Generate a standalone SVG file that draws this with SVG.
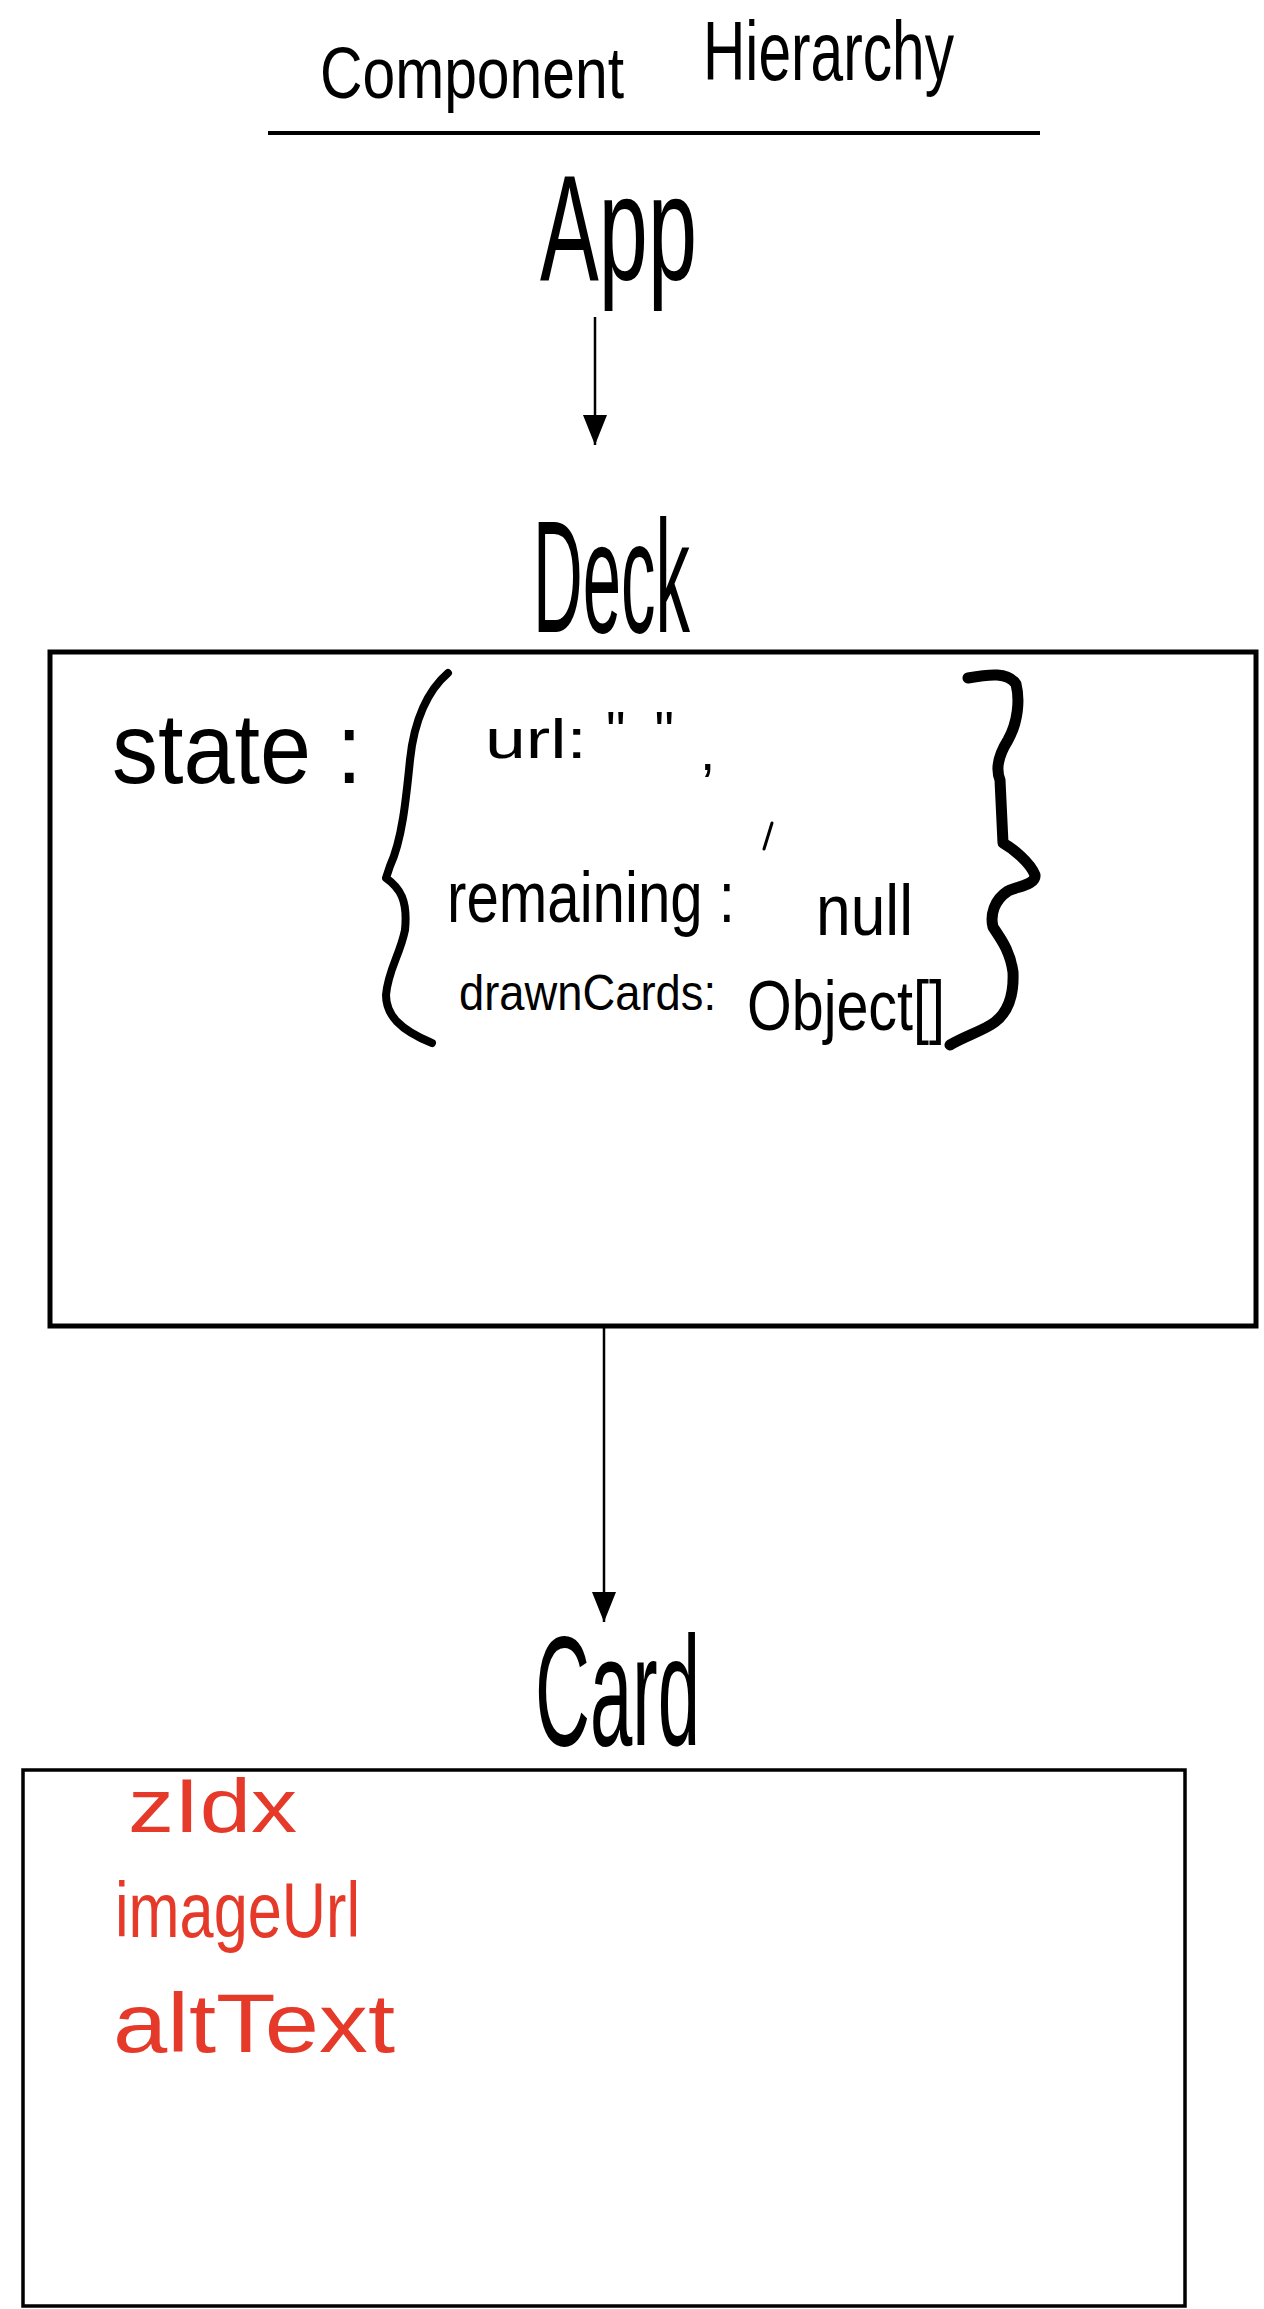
<svg xmlns="http://www.w3.org/2000/svg" width="1264" height="2309" viewBox="0 0 1264 2309">
<style>
text { font-family: "Liberation Sans", Arial, sans-serif; fill: #000; }
.red { fill: #e5392a; }
.box { fill: none; stroke: #000; }
.conn { stroke: #000; stroke-width: 2.5; fill: none; }
.ink { fill: none; stroke: #000; stroke-linecap: round; stroke-linejoin: round; }
</style>
<defs>
<marker id="arrow" viewBox="0 0 30 24" refX="30" refY="12" markerWidth="30" markerHeight="24" markerUnits="userSpaceOnUse" orient="auto">
<path d="M0,0 L30,12 L0,24 Z" fill="#000"/>
</marker>
</defs>
<rect width="1264" height="2309" fill="#fff"/>
<g id="title">
<text><tspan x="320" y="98" font-size="73" textLength="304" lengthAdjust="spacingAndGlyphs">Component</tspan> <tspan x="703" y="80" font-size="84" textLength="251" lengthAdjust="spacingAndGlyphs">Hierarchy</tspan></text>
<line x1="268" y1="133" x2="1040" y2="133" stroke="#000" stroke-width="4"/>
</g>
<g id="connectors">
<line class="conn" x1="595" y1="317" x2="595" y2="445" marker-end="url(#arrow)"/>
<line class="conn" x1="604" y1="1328" x2="604" y2="1622" marker-end="url(#arrow)"/>
</g>
<g id="app">
<text x="540" y="280" font-size="150" textLength="157" lengthAdjust="spacingAndGlyphs">App</text>
</g>
<g id="deck">
<text x="533" y="632" font-size="160" textLength="157" lengthAdjust="spacingAndGlyphs">Deck</text>
<rect class="box" x="50" y="652" width="1206" height="674" stroke-width="5"/>
<text x="112" y="783" font-size="100" textLength="250" lengthAdjust="spacingAndGlyphs">state :</text>
<path class="ink" stroke-width="8" d="M448,673 C428,690 414,720 410,760 C406,800 402,840 390,866 L386,878 C400,888 408,900 405,930 C400,955 388,970 386,995 C386,1015 400,1030 432,1043"/>
<text font-size="55"><tspan x="485" y="758" textLength="102" lengthAdjust="spacingAndGlyphs">url:</tspan><tspan x="606" y="750" textLength="68" lengthAdjust="spacing">""</tspan><tspan x="700" y="770">,</tspan></text>
<line class="ink" stroke-width="3" x1="772" y1="823" x2="764" y2="849"/>
<text font-size="72"><tspan x="447" y="922" textLength="288" lengthAdjust="spacingAndGlyphs">remaining :</tspan><tspan x="816" y="935" textLength="97" lengthAdjust="spacingAndGlyphs">null</tspan></text>
<text><tspan x="459" y="1010" font-size="50" textLength="257" lengthAdjust="spacingAndGlyphs">drawnCards:</tspan><tspan x="747" y="1030" font-size="70" textLength="198" lengthAdjust="spacingAndGlyphs">Object[]</tspan></text>
<path class="ink" stroke-width="11" d="M968,678 C990,674 1008,672 1016,684 C1020,700 1018,722 1008,740 C998,756 996,770 1000,780 L1003,843 C1012,848 1030,862 1035,875 C1036,884 1020,886 1008,891 C994,900 990,915 993,927 C1000,938 1010,950 1013,972 C1014,995 1008,1012 995,1022 C985,1030 965,1036 950,1045"/>
</g>
<g id="card">
<text x="535" y="1745" font-size="155" textLength="165" lengthAdjust="spacingAndGlyphs">Card</text>
<rect class="box" x="23" y="1770" width="1162" height="536" stroke-width="3.5"/>
<text class="red" x="128" y="1832" font-size="76" textLength="169" lengthAdjust="spacingAndGlyphs">zIdx</text>
<text class="red" x="115" y="1937" font-size="78" textLength="245" lengthAdjust="spacingAndGlyphs">imageUrl</text>
<text class="red" x="113" y="2052" font-size="84" textLength="282" lengthAdjust="spacingAndGlyphs">altText</text>
</g>
</svg>
